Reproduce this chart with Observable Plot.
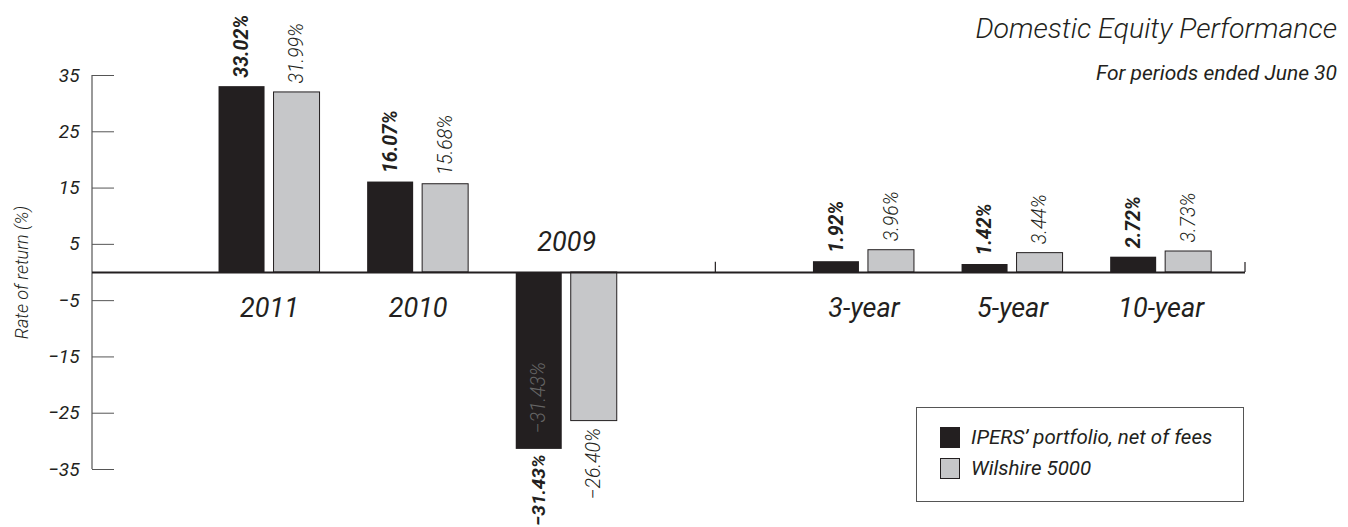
<!DOCTYPE html>
<html><head><meta charset="utf-8">
<script src="https://cdn.jsdelivr.net/npm/d3@7"></script>
<script src="https://cdn.jsdelivr.net/npm/@observablehq/plot@0.6"></script>
<style>
body{margin:0;background:#fff;}
#wrap{position:relative;width:1348px;height:527px;font-family:Roboto,"Liberation Sans",sans-serif;font-style:italic;color:#231f20;}
#title{position:absolute;right:11px;top:14px;font-size:28.5px;line-height:29px;font-weight:300;white-space:nowrap;}
#subtitle{position:absolute;right:11px;top:63px;font-size:21px;line-height:21px;white-space:nowrap;}
#legend{position:absolute;left:916px;top:407px;width:328px;height:95px;border:1px solid #555;box-sizing:border-box;}
.lrow{position:absolute;left:23px;display:flex;align-items:center;font-size:20.5px;white-space:nowrap;}
.sw{width:20px;height:21px;box-sizing:border-box;margin-right:11px;border:1px solid #231f20;}
#chart{position:absolute;left:0;top:0;}
</style></head><body>
<div id="wrap">
  <div id="chart"></div>
  <div id="title">Domestic Equity Performance</div>
  <div id="subtitle">For periods ended June 30</div>
  <div id="legend"></div>
</div>
<script>
const periods = ["2011", "2010", "2009", "3-year", "5-year", "10-year"];
const ipers = [33.02, 16.07, -31.43, 1.92, 1.42, 2.72];
const wilshire = [31.99, 15.68, -26.40, 3.96, 3.44, 3.73];
const yTicks = [35, 25, 15, 5, -5, -15, -25, -35];
const seriesNames = ["IPERS\u2019 portfolio, net of fees", "Wilshire 5000"];
const yLabel = "Rate of return (%)";

const colors = ["#231f20", "#c6c7c9"];
const spacer = " ";
const xDomain = [...periods.slice(0, 3), spacer, ...periods.slice(3)];
const rows = periods.map((p, i) => ({period: p, ipers: ipers[i], wilshire: wilshire[i]}));
const fmt = v => d3.format(".2f")(v) + "%";
const minus = d => d < 0 ? "\u2212" + Math.abs(d) : String(d);
const half = 27.5;
const ns = "http://www.w3.org/2000/svg";

function line(x1, y1, x2, y2, stroke, w) {
  const l = document.createElementNS(ns, "line");
  l.setAttribute("x1", x1); l.setAttribute("x2", x2);
  l.setAttribute("y1", y1); l.setAttribute("y2", y2);
  l.setAttribute("stroke", stroke); l.setAttribute("stroke-width", w);
  return l;
}
const endTick = (index, {y}, values, dims) =>
  line(dims.width - dims.marginRight, y(0), dims.width - dims.marginRight, y(0) - 10, "#231f20", 1.2);
const yAxisLine = (index, {y}, values, dims) =>
  line(dims.marginLeft, y(d3.max(yTicks)), dims.marginLeft, y(d3.min(yTicks)), "#555", 1.2);

const chart = Plot.plot({
  width: 1348,
  height: 527,
  marginTop: 75,
  marginBottom: 58,
  marginLeft: 92,
  marginRight: 103,
  style: {fontFamily: 'Roboto,"Liberation Sans",sans-serif', fontStyle: "italic", color: "#231f20", background: "transparent", overflow: "visible"},
  x: {type: "band", domain: xDomain, paddingInner: 0.3203, paddingOuter: 0.5396, align: 0.789, round: false, axis: null},
  y: {domain: [-35, 35], label: null},
  marks: [
    Plot.axisY(yTicks, {tickSize: -22, tickPadding: 35, tickFormat: minus, fontSize: 19, stroke: "#555", label: null}),
    yAxisLine,
    Plot.text([yLabel], {frameAnchor: "left", dx: -70, rotate: -90, fontSize: 18, fontWeight: 300, textAnchor: "middle", lineAnchor: "middle"}),
    Plot.barY(rows, {x: "period", y: "ipers", fill: colors[0], insetRight: 2 * half}),
    Plot.barY(rows, {x: "period", y: "wilshire", fill: colors[1], stroke: "#231f20", strokeWidth: 1, insetLeft: 2 * half}),
    Plot.ruleY([0], {stroke: "#231f20", strokeWidth: 2}),
    Plot.ruleX([spacer], {x: d => d, y1: 0, y2: 1.8, stroke: "#231f20", strokeWidth: 1.2}),
    endTick,
    // value labels
    Plot.text(rows, {filter: d => d.ipers >= 0, x: "period", y: "ipers", text: d => fmt(d.ipers), rotate: -90, textAnchor: "start", dx: -half, dy: -9, fontSize: 19.5, fontWeight: "bold"}),
    Plot.text(rows, {filter: d => d.wilshire >= 0, x: "period", y: "wilshire", text: d => fmt(d.wilshire), rotate: -90, textAnchor: "start", dx: half, dy: -9, fontSize: 19.5, fontWeight: 300}),
    Plot.text(rows, {filter: d => d.ipers < 0, x: "period", y: "ipers", text: d => fmt(d.ipers), rotate: -90, textAnchor: "end", dx: -half, dy: 5, fontSize: 19, fontWeight: "bold"}),
    Plot.text(rows, {filter: d => d.ipers < 0, x: "period", y: "ipers", text: d => fmt(d.ipers), rotate: -90, textAnchor: "start", dx: -half, dy: -16, fontSize: 19.5, fontWeight: 300, fill: "#666"}),
    Plot.text(rows, {filter: d => d.wilshire < 0, x: "period", y: "wilshire", text: d => fmt(d.wilshire), rotate: -90, textAnchor: "end", dx: half, dy: 7, fontSize: 19.5, fontWeight: 300}),
    // category labels
    Plot.text(rows, {filter: d => Math.min(d.ipers, d.wilshire) >= 0, x: "period", y: 0, text: "period", dy: 36, fontSize: 27}),
    Plot.text(rows, {filter: d => Math.min(d.ipers, d.wilshire) < 0, x: "period", y: 0, text: "period", dy: -30, fontSize: 27})
  ]
});
document.getElementById("chart").append(chart);

const legend = document.getElementById("legend");
seriesNames.forEach((name, i) => {
  const row = document.createElement("div");
  row.className = "lrow";
  row.style.top = (17 + i * 31) + "px";
  const sw = document.createElement("div");
  sw.className = "sw";
  sw.style.background = colors[i];
  const t = document.createElement("span");
  t.textContent = name;
  row.append(sw, t);
  legend.append(row);
});
</script>
</body></html>
